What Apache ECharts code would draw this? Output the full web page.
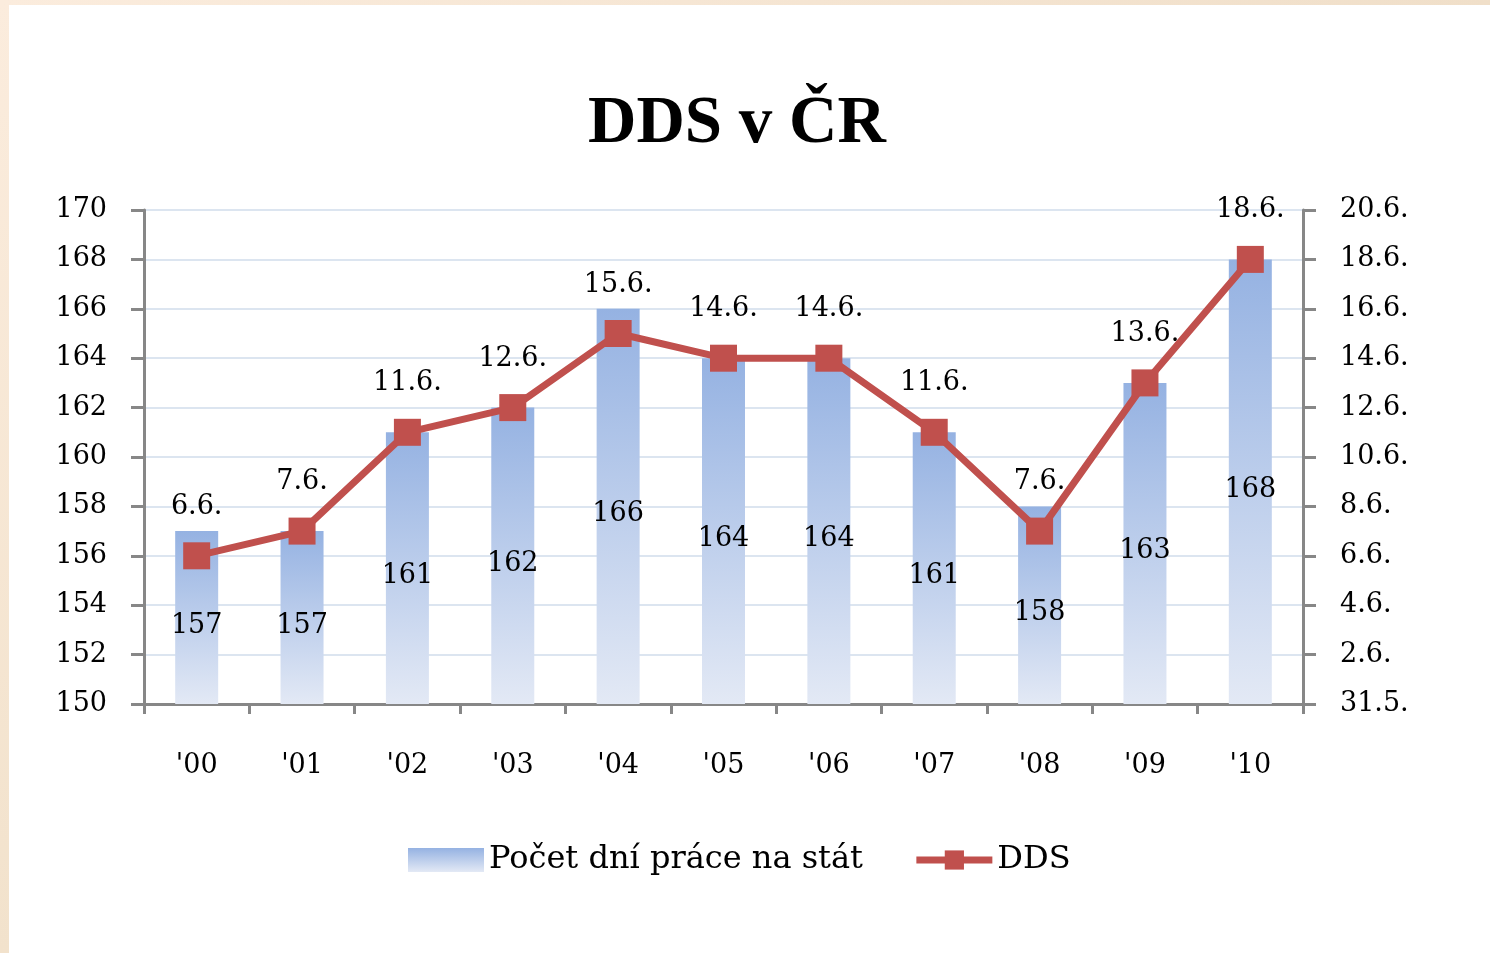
<!DOCTYPE html>
<html>
<head>
<meta charset="utf-8">
<script src="https://cdn.jsdelivr.net/npm/echarts@6/dist/echarts.min.js"></script>
<style>
html,body{margin:0;padding:0;background:#fff;}
#chart{width:1490px;height:953px;}
</style>
</head>
<body>
<div id="chart"></div>
<script>
var categories = ["'00","'01","'02","'03","'04","'05","'06","'07","'08","'09","'10"];
var workDays = [157,157,161,162,166,164,164,161,158,163,168];
var ddsDay = [6,7,11,12,15,14,14,11,7,13,18];
var leftMin = 150, leftMax = 170, leftStep = 2;
var rightMin = 0, rightMax = 20, rightStep = 2;
var barName = 'Počet dní práce na stát';
var lineName = 'DDS';

function dateLabel(v){ return v === 0 ? '31.5.' : v + '.6.'; }

var chart = echarts.init(document.getElementById('chart'));
var numFont = 'DejaVu Serif';
var axisColor = '#878787';
var red = '#C0504D';
chart.setOption({
  backgroundColor: '#fff',
  animation: false,
  graphic: [
    {type:'rect', shape:{x:0,y:0,width:9,height:953}, style:{fill:new echarts.graphic.LinearGradient(0,0,0,1,[{offset:0,color:'#FBECDD'},{offset:1,color:'#F2E2CC'}])}, z:100},
    {type:'rect', shape:{x:0,y:0,width:1490,height:5}, style:{fill:new echarts.graphic.LinearGradient(0,0,1,0,[{offset:0,color:'#FBECDD'},{offset:1,color:'#F0DFC9'}])}, z:100}
  ],
  title: {
    text: 'DDS v ČR',
    left: 588,
    top: 91,
    padding: 0,
    textStyle: {fontFamily:'Liberation Serif', fontWeight:'bold', fontSize:67, color:'#000'}
  },
  legend: {
    left: 408,
    top: 844,
    padding: 0,
    itemWidth: 76,
    itemHeight: 24,
    itemGap: 50,
    textStyle: {fontFamily:numFont, fontSize:32, color:'#000'},
    data: [
      {name: barName, icon: 'rect'},
      {name: lineName, lineStyle: {width: 7, color: red}, itemStyle: {color: red}}
    ]
  },
  grid: {left:144, right:187, top:210, bottom:249, containLabel:false},
  xAxis: {
    type: 'category',
    data: categories,
    axisLine: {lineStyle:{color:axisColor, width:3}},
    axisTick: {show:true, length:10, lineStyle:{color:axisColor, width:3}},
    axisLabel: {margin:48, fontFamily:numFont, fontSize:27, color:'#000'}
  },
  yAxis: [
    {
      type:'value', min:leftMin, max:leftMax, interval:leftStep,
      axisLine:{show:true, lineStyle:{color:axisColor, width:3}},
      axisTick:{show:true, length:13, lineStyle:{color:axisColor, width:3}},
      axisLabel:{margin:37, fontFamily:numFont, fontSize:27, color:'#000'},
      splitLine:{show:true, lineStyle:{color:'#DCE5F0', width:2}}
    },
    {
      type:'value', min:rightMin, max:rightMax, interval:rightStep,
      position:'right',
      axisLine:{show:true, lineStyle:{color:axisColor, width:3}},
      axisTick:{show:true, length:13, lineStyle:{color:axisColor, width:3}},
      axisLabel:{margin:37, fontFamily:numFont, fontSize:27, color:'#000', formatter:dateLabel},
      splitLine:{show:false}
    }
  ],
  series: [
    {
      name: barName,
      type: 'bar',
      data: workDays,
      barWidth: 43,
      itemStyle: {color: new echarts.graphic.LinearGradient(0,0,0,1,[{offset:0,color:'#95B2E2'},{offset:1,color:'#E3E9F5'}])},
      label: {show:true, position:'inside', offset:[0,8], fontFamily:numFont, fontSize:27, color:'#000'},
      z: 2
    },
    {
      name: lineName,
      type: 'line',
      yAxisIndex: 1,
      data: ddsDay,
      symbol: 'rect',
      symbolSize: 27,
      lineStyle: {color:red, width:7},
      itemStyle: {color:red},
      label: {show:true, position:'top', distance:22, fontFamily:numFont, fontSize:27, color:'#000', formatter:function(p){return dateLabel(p.value);}},
      z: 3
    }
  ]
});
</script>
</body>
</html>
